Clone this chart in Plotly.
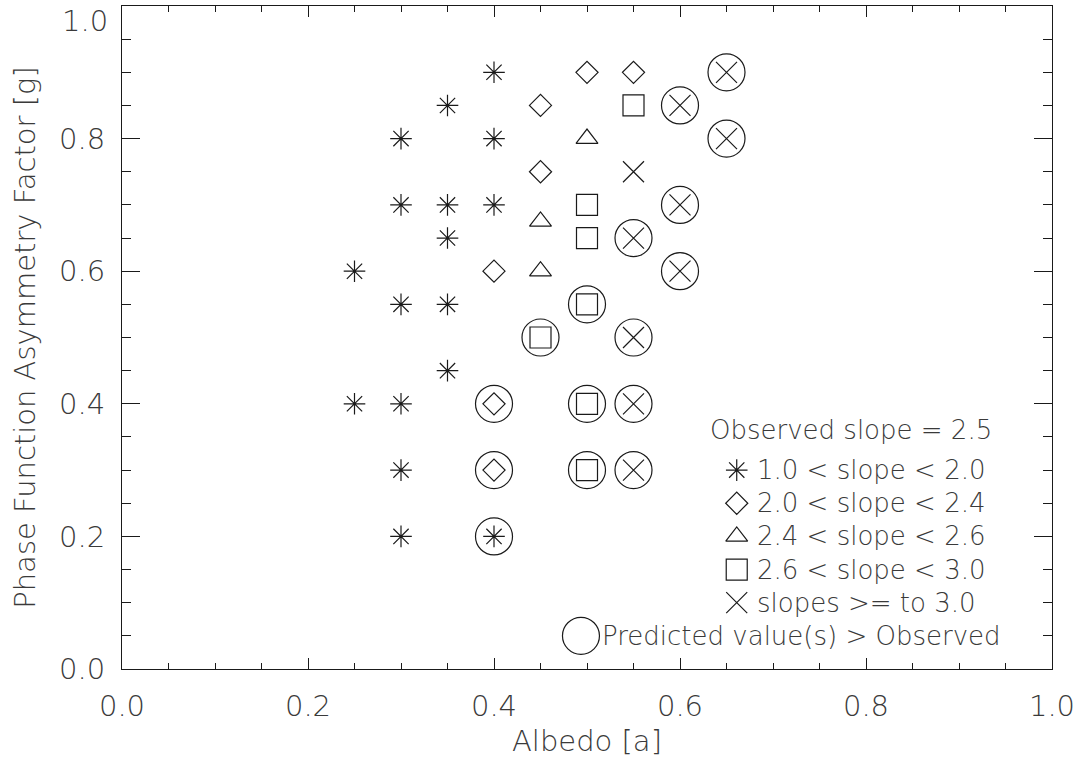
import plotly.graph_objects as go

# Albedo / asymmetry-factor grid points grouped by the slope range they produced
asterisk_x = [0.25, 0.25, 0.30, 0.30, 0.30, 0.30, 0.30, 0.30, 0.35, 0.35, 0.35, 0.35, 0.35, 0.40, 0.40, 0.40, 0.40]
asterisk_y = [0.60, 0.40, 0.80, 0.70, 0.55, 0.40, 0.30, 0.20, 0.85, 0.70, 0.65, 0.55, 0.45, 0.90, 0.80, 0.70, 0.20]

diamond_x = [0.40, 0.40, 0.40, 0.45, 0.45, 0.50, 0.55]
diamond_y = [0.60, 0.40, 0.30, 0.85, 0.75, 0.90, 0.90]

triangle_x = [0.45, 0.45, 0.50]
triangle_y = [0.675, 0.60, 0.80]

square_x = [0.45, 0.50, 0.50, 0.50, 0.50, 0.50, 0.55]
square_y = [0.50, 0.70, 0.65, 0.55, 0.40, 0.30, 0.85]

cross_x = [0.55, 0.55, 0.55, 0.55, 0.55, 0.60, 0.60, 0.60, 0.65, 0.65]
cross_y = [0.75, 0.65, 0.50, 0.40, 0.30, 0.85, 0.70, 0.60, 0.90, 0.80]

# points whose predicted value(s) exceed the observed slope (circled)
predicted_x = [0.40, 0.40, 0.40, 0.45, 0.50, 0.50, 0.50, 0.55, 0.55, 0.55, 0.55, 0.60, 0.60, 0.60, 0.65, 0.65]
predicted_y = [0.20, 0.40, 0.30, 0.50, 0.55, 0.40, 0.30, 0.65, 0.50, 0.40, 0.30, 0.85, 0.70, 0.60, 0.90, 0.80]

observed_label = "Observed slope = 2.5"
legend_labels = [
    "1.0 < slope < 2.0",
    "2.0 < slope < 2.4",
    "2.4 < slope < 2.6",
    "2.6 < slope < 3.0",
    "slopes >= to 3.0",
]
predicted_label = "Predicted value(s) > Observed"

x_ticks = [0.0, 0.2, 0.4, 0.6, 0.8, 1.0]
y_ticks = [0.0, 0.2, 0.4, 0.6, 0.8, 1.0]

INK = "#1a1a1a"
TEXT = "#3a3a3a"
FONT = "DejaVu Sans"
LW = 1.2

groups = [
    (asterisk_x, asterisk_y, "asterisk-open", 18),
    (diamond_x, diamond_y, "diamond-open", 17),
    (triangle_x, triangle_y, "triangle-up-open", 19),
    (square_x, square_y, "square-open", 21),
    (cross_x, cross_y, "x-thin-open", 21),
]
circle_size = 37

fig = go.Figure()

for gx, gy, sym, size in groups:
    fig.add_trace(go.Scatter(
        x=gx, y=gy, mode="markers",
        marker=dict(symbol=sym, size=size, color=INK, line=dict(color=INK, width=LW)),
        hoverinfo="skip",
    ))

fig.add_trace(go.Scatter(
    x=predicted_x, y=predicted_y, mode="markers",
    marker=dict(symbol="circle-open", size=circle_size, color=INK, line=dict(color=INK, width=LW)),
    hoverinfo="skip",
))

# key drawn inside the lower-right corner of the plot
key_font = dict(family=FONT, size=26, color=TEXT, weight=300)
key_sym_x = 0.661
key_text_x = 0.681
key_rows_y = [0.30, 0.25, 0.20, 0.15, 0.10]
for (gx, gy, sym, size), label, ky in zip(groups, legend_labels, key_rows_y):
    fig.add_trace(go.Scatter(
        x=[key_sym_x], y=[ky], mode="markers",
        marker=dict(symbol=sym, size=size, color=INK, line=dict(color=INK, width=LW)),
        hoverinfo="skip",
    ))
    fig.add_annotation(x=key_text_x, y=ky, text=label, showarrow=False,
                       xanchor="left", yanchor="middle", font=key_font)

fig.add_annotation(x=0.630, y=0.36, text=observed_label, showarrow=False,
                   xanchor="left", yanchor="middle", font=key_font)

fig.add_trace(go.Scatter(
    x=[0.4935], y=[0.05], mode="markers",
    marker=dict(symbol="circle-open", size=circle_size, color=INK, line=dict(color=INK, width=LW)),
    hoverinfo="skip",
))
fig.add_annotation(x=0.514, y=0.05, text=predicted_label, showarrow=False,
                   xanchor="left", yanchor="middle", font=key_font)

tick_font = dict(family=FONT, size=29, color=TEXT, weight=300)

axis_common = dict(
    range=[0, 1], showgrid=False, zeroline=False,
    showline=True, linecolor=INK, linewidth=LW, mirror="allticks",
    ticks="inside", tickcolor=INK, tickwidth=1,
    tickfont=tick_font,
)

fig.update_xaxes(
    **axis_common, tickvals=x_ticks, ticktext=[f"{v:.1f}" for v in x_ticks], ticklen=11,
    minor=dict(ticks="inside", ticklen=6, dtick=0.05, tickcolor=INK, tickwidth=1),
    ticklabelstandoff=11,
    title=dict(text="Albedo [a]", standoff=8, font=tick_font),
)
# the top label is drawn separately so it sits inside the figure
fig.update_yaxes(
    **axis_common, tickvals=y_ticks,
    ticktext=[f"{v:.1f}" if v < y_ticks[-1] else "" for v in y_ticks], ticklen=18,
    minor=dict(ticks="inside", ticklen=9, dtick=0.05, tickcolor=INK, tickwidth=1),
    ticklabelstandoff=10,
    title=dict(text="Phase Function Asymmetry Factor [g]", standoff=14, font=tick_font),
)
fig.add_annotation(xref="paper", x=0, y=y_ticks[-1], text=f"{y_ticks[-1]:.1f}",
                   showarrow=False, xanchor="right", yanchor="top",
                   xshift=-12, yshift=4, font=tick_font)

fig.update_layout(
    width=1089, height=766,
    margin=dict(l=122, r=37, t=6, b=97),
    plot_bgcolor="white", paper_bgcolor="white",
    showlegend=False,
)

fig.write_html("out.html")
